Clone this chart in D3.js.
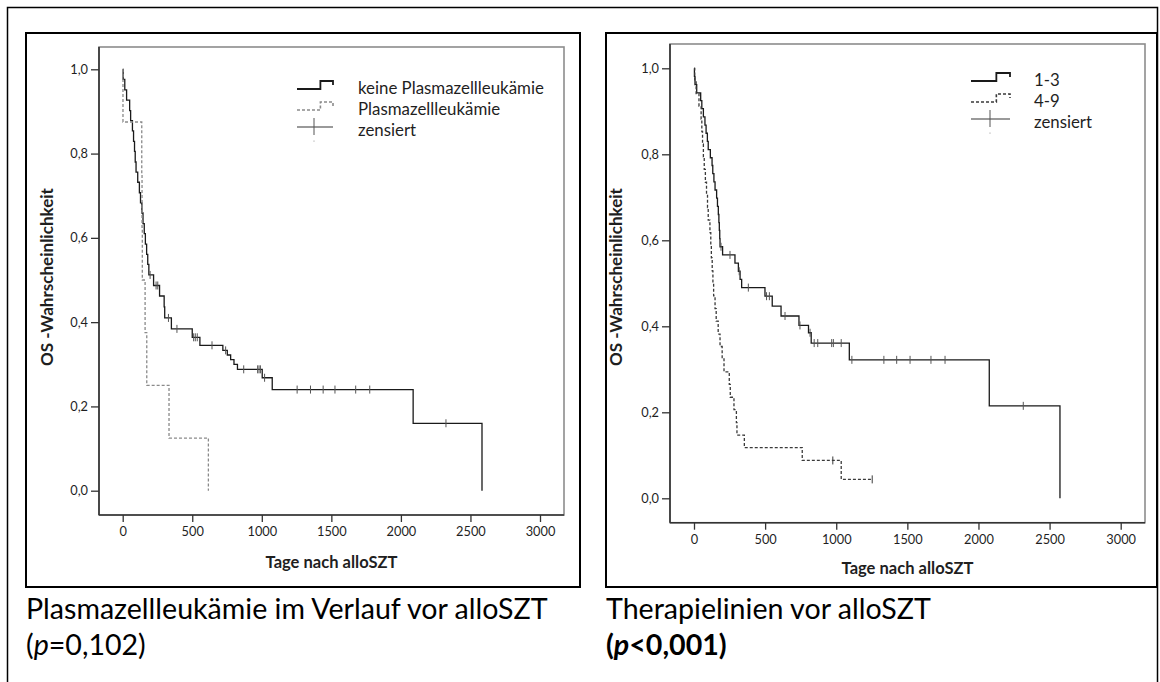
<!DOCTYPE html>
<html>
<head>
<meta charset="utf-8">
<script src="https://cdn.jsdelivr.net/npm/d3@7"></script>
<style>
  html, body { margin: 0; padding: 0; background: #fff; }
  svg { display: block; }
  text { font-family: Lato, "Open Sans", "DejaVu Sans", sans-serif; }
</style>
</head>
<body>
<svg id="chart" width="1160" height="682"></svg>
<script>
// ---------------- DATA ----------------
const xTicks = [0, 500, 1000, 1500, 2000, 2500, 3000];
const yTicks = [0, 0.2, 0.4, 0.6, 0.8, 1.0];
const xTitle = "Tage nach alloSZT";
const yTitle = "OS -Wahrscheinlichkeit";

// Left chart: Plasmazellleukämie
const leftLegend = ["keine Plasmazellleukämie", "Plasmazellleukämie", "zensiert"];
// [day, survival after event]
const leftNoPCL = [[0,1],[3,0.976],[15,0.951],[28,0.927],[50,0.902],[57,0.878],[70,0.854],[78,0.829],[85,0.805],[90,0.780],[96,0.756],[108,0.732],[120,0.707],[128,0.683],[138,0.659],[146,0.634],[155,0.610],[163,0.585],[172,0.561],[180,0.537],[188,0.512],[222,0.487],[265,0.462],[298,0.436],[302,0.410],[350,0.384],[500,0.364],[555,0.345],[720,0.333],[752,0.322],[776,0.311],[800,0.300],[825,0.288],[1003,0.268],[1075,0.240],[2088,0.160],[2583,0]];
const leftNoPCLCensored = [197,240,252,329,390,510,522,536,642,740,870,970,980,990,1020,1254,1350,1441,1526,1675,1776,2324];
const leftPCL = [[0,1],[2,0.875],[137,0.75],[139,0.625],[141,0.5],[161,0.375],[173,0.25],[333,0.125],[616,0]];
const leftPCLCensored = [];

// Right chart: Therapielinien
const rightLegend = ["1-3", "4-9", "zensiert"];
const right13 = [[0,1],[3,0.981],[7,0.962],[19,0.943],[47,0.925],[55,0.906],[66,0.887],[77,0.868],[85,0.849],[94,0.830],[100,0.811],[115,0.792],[127,0.774],[132,0.755],[140,0.736],[148,0.717],[159,0.698],[165,0.679],[171,0.660],[175,0.641],[178,0.623],[181,0.604],[183,0.585],[201,0.566],[288,0.547],[312,0.528],[324,0.509],[335,0.490],[499,0.470],[550,0.447],[612,0.424],[738,0.402],[805,0.385],[824,0.361],[1092,0.322],[2076,0.215],[2573,0]];
const right13Censored = [190,253,318,382,510,530,640,745,816,845,870,968,980,1035,1110,1335,1425,1519,1666,1765,2315];
const right49 = [[0,1],[5,0.971],[15,0.941],[35,0.912],[50,0.882],[55,0.853],[60,0.824],[66,0.794],[72,0.765],[80,0.735],[88,0.706],[95,0.676],[100,0.647],[112,0.618],[118,0.588],[122,0.559],[128,0.529],[133,0.500],[138,0.471],[148,0.441],[156,0.412],[170,0.382],[183,0.353],[198,0.324],[211,0.294],[248,0.265],[255,0.235],[281,0.206],[298,0.176],[302,0.147],[354,0.118],[761,0.088],[1035,0.044],[1253,0.044]];
const right49Censored = [976,1253];

const captions = [
  { line1: "Plasmazellleukämie im Verlauf vor alloSZT", p: "=0,102", bold: false },
  { line1: "Therapielinien vor alloSZT", p: "<0,001", bold: true }
];

// ---------------- LAYOUT ----------------
const svg = d3.select("#chart");

// outer frame
svg.append("path").attr("d", "M7.5,682 V7.5 H1157.5 V682")
  .attr("fill", "none").attr("stroke", "#000").attr("stroke-width", 1.5);

const panels = [
  { box: [26, 33, 580, 587], frame: [99, 47, 564, 515], xr: [122.7, 540], yr: [490.7, 69.3],
    ytX: 47, ytY: 277, xtY: 568, legX: 297, legW: 36, legTx: 358, legRows: [88, 109, 130], legTick: 314,
    legTextW: 186, legend: leftLegend,
    series: [ { steps: leftNoPCL, cens: leftNoPCLCensored, color: "#1a1a1a", dash: null },
              { steps: leftPCL, cens: leftPCLCensored, color: "#8a8a8a", dash: "3,2" } ],
    capX: 26 },
  { box: [606, 33, 1157, 587], frame: [670, 44, 1145, 522.7], xr: [694, 1120.7], yr: [498.3, 68.3],
    ytX: 616, ytY: 277, xtY: 574, legX: 971, legW: 39, legTx: 1034, legRows: [80, 101, 122], legTick: 990,
    legTextW: 58, legTextIdx: 2, legend: rightLegend,
    series: [ { steps: right13, cens: right13Censored, color: "#1a1a1a", dash: null },
              { steps: right49, cens: right49Censored, color: "#3a3a3a", dash: "3,2" } ],
    capX: 606 }
];

function survAt(steps, t) {
  let s = 1;
  for (const [d, v] of steps) { if (d <= t) s = v; else break; }
  return s;
}

function fitFont(textSel, target, base) {
  textSel.attr("font-size", base);
  const w = textSel.node().getComputedTextLength();
  const size = base * target / w;
  textSel.attr("font-size", size);
  return size;
}

panels.forEach((P, pi) => {
  const g = svg.append("g");
  const [bx0, by0, bx1, by1] = P.box;
  g.append("rect").attr("x", bx0).attr("y", by0).attr("width", bx1 - bx0).attr("height", by1 - by0)
    .attr("fill", "#fff").attr("stroke", "#000").attr("stroke-width", 2);

  const [fx0, fy0, fx1, fy1] = P.frame;
  const x = d3.scaleLinear().domain([0, 3000]).range(P.xr);
  const y = d3.scaleLinear().domain([0, 1]).range(P.yr);

  // plot frame (top/right grey)
  g.append("rect").attr("x", fx0).attr("y", fy0).attr("width", fx1 - fx0).attr("height", fy1 - fy0)
    .attr("fill", "none").attr("stroke", "#8c8c8c").attr("stroke-width", 1.6);

  // axes
  const xAxis = d3.axisBottom(x).tickValues(xTicks).tickSize(7).tickPadding(5).tickFormat(d3.format("d"));
  const yAxis = d3.axisLeft(y).tickValues(yTicks).tickSize(8).tickPadding(3)
    .tickFormat(d => d.toFixed(1).replace(".", ","));
  const gx = g.append("g").attr("transform", `translate(0,${fy1})`).call(xAxis);
  const gy = g.append("g").attr("transform", `translate(${fx0},0)`).call(yAxis);
  [gx, gy].forEach(a => {
    a.select(".domain").remove();
    a.selectAll(".tick line").attr("stroke", "#333").attr("stroke-width", 1.3);
    a.selectAll(".tick text").attr("fill", "#1f1f1f").attr("font-size", 12.8)
      .style("font-family", "Lato, 'Open Sans', sans-serif");
  });
  // dark left & bottom axis lines
  g.append("line").attr("x1", fx0).attr("x2", fx0).attr("y1", fy0).attr("y2", fy1)
    .attr("stroke", "#333").attr("stroke-width", 1.6);
  g.append("line").attr("x1", fx0).attr("x2", fx1).attr("y1", fy1).attr("y2", fy1)
    .attr("stroke", "#333").attr("stroke-width", 1.6);

  // axis titles
  const xt = g.append("text").attr("x", (fx0 + fx1) / 2).attr("y", P.xtY)
    .attr("text-anchor", "middle").attr("font-weight", "bold").attr("fill", "#1f1f1f").text(xTitle);
  fitFont(xt, 132, 13);
  const yt = g.append("text").attr("transform", `translate(${P.ytX},${P.ytY}) rotate(-90)`)
    .attr("text-anchor", "middle").attr("dy", "0.35em").attr("font-weight", "bold").attr("fill", "#1f1f1f").text(yTitle);
  fitFont(yt, 178, 13);

  // curves
  const line = d3.line().x(d => x(d[0])).y(d => y(d[1])).curve(d3.curveStepAfter);
  P.series.forEach(s => {
    g.append("path").attr("d", line(s.steps)).attr("fill", "none")
      .attr("stroke", s.color).attr("stroke-width", 1.3)
      .attr("stroke-dasharray", s.dash);
    g.selectAll(null).data(s.cens).enter().append("line")
      .attr("x1", d => x(d)).attr("x2", d => x(d))
      .attr("y1", d => y(survAt(s.steps, d)) - 4).attr("y2", d => y(survAt(s.steps, d)) + 4)
      .attr("stroke", s.dash ? s.color : "#555").attr("stroke-width", 1);
  });

  // legend
  const lx = P.legX, lw = P.legW;
  P.legRows.forEach((ry, i) => {
    if (i < 2) {
      const col = P.series[i].color;
      const yb = ry + 1, yt2 = ry - 7;
      const xs = lx + lw * 0.65;
      g.append("path").attr("d", `M${lx},${yb} H${xs} V${yt2} H${lx + lw} V${yt2 + 4}`)
        .attr("fill", "none").attr("stroke", col).attr("stroke-width", i === 0 ? 1.8 : 1.6)
        .attr("stroke-dasharray", P.series[i].dash);
    } else {
      g.append("line").attr("x1", lx).attr("x2", lx + lw).attr("y1", ry - 3).attr("y2", ry - 3)
        .attr("stroke", "#9a9a9a").attr("stroke-width", 2);
      g.append("line").attr("x1", P.legTick).attr("x2", P.legTick).attr("y1", ry - 12).attr("y2", ry + 5)
        .attr("stroke", "#555").attr("stroke-width", 1);
      g.append("circle").attr("cx", P.legTick).attr("cy", ry + 11).attr("r", 0.6).attr("fill", "#888");
    }
  });
  const legTexts = P.legRows.map((ry, i) =>
    g.append("text").attr("x", P.legTx).attr("y", ry).attr("dy", "0.35em")
      .attr("fill", "#1f1f1f").text(P.legend[i]));
  const idx = P.legTextIdx !== undefined ? P.legTextIdx : 0;
  const fs = fitFont(legTexts[idx], P.legTextW, 14);
  legTexts.forEach(t => t.attr("font-size", fs));
});

// captions
let capSize = null;
captions.forEach((c, i) => {
  const cx = panels[i].capX;
  const t1 = svg.append("text").attr("x", cx).attr("y", 619).attr("fill", "#000").text(c.line1);
  if (capSize === null) capSize = fitFont(t1, 522, 26);
  t1.attr("font-size", capSize);
  const t2 = svg.append("text").attr("x", cx).attr("y", 655).attr("fill", "#000")
    .attr("font-size", capSize).attr("font-weight", c.bold ? "bold" : "normal");
  t2.append("tspan").text("(");
  t2.append("tspan").attr("font-style", "italic").text("p");
  t2.append("tspan").text(c.p + ")");
});
</script>
</body>
</html>
